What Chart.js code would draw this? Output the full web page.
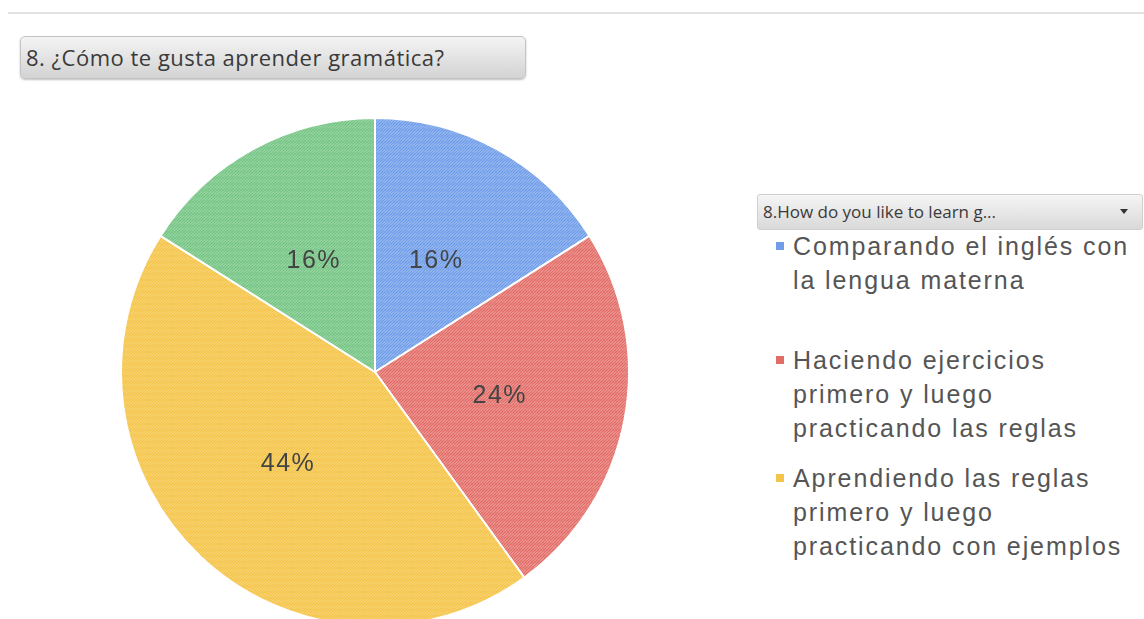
<!DOCTYPE html>
<html lang="es">
<head>
<meta charset="UTF-8">
<title>Gramática</title>
<style>
  html, body { margin: 0; padding: 0; background: #fff; overflow: hidden; }
  body { width: 1144px; height: 619px; position: relative; font-family: "Liberation Sans", Arial, sans-serif; }
  .topline { position: absolute; left: 8px; right: 0; top: 12px; height: 2px; background: #e2e2e2; }
  .titlebox {
    position: absolute; left: 20px; top: 36px; width: 506px; height: 43px; box-sizing: border-box;
    border: 1px solid #c4c4c4; border-radius: 5px;
    background: linear-gradient(#f4f4f4, #d3d3d3);
    box-shadow: 0 1px 2px rgba(0,0,0,0.25);
    font-family: "Open Sans", sans-serif; font-size: 22px; letter-spacing: 0.5px; color: #3a3a3a;
    line-height: 41px; padding-left: 5px;
  }
  .legendhead {
    position: absolute; left: 757px; top: 194px; width: 386px; height: 36px; box-sizing: border-box;
    border: 1px solid #cfcfcf; border-radius: 3px;
    background: linear-gradient(#f5f5f5, #d9d9d9);
    font-family: "Open Sans", sans-serif; font-size: 17px; color: #3a3a3a;
    line-height: 34px; padding-left: 5px;
  }
  .legendhead .arrow {
    position: absolute; right: 14px; top: 14px; width: 0; height: 0;
    border-left: 4px solid transparent; border-right: 4px solid transparent; border-top: 5px solid #333;
  }
  #legend { position: absolute; left: 776px; top: 229px; width: 368px; }
  .item { position: relative; padding-left: 17px; font-size: 25px; line-height: 34px; color: #555; letter-spacing: 1.9px; white-space: nowrap; }
  .item .sw { position: absolute; left: 0; top: 13px; width: 8px; height: 8px; }
  #chartWrap { position: absolute; left: 118px; top: 115px; width: 514px; height: 514px; }
</style>
</head>
<body>
<div class="topline"></div>
<div class="titlebox">8. ¿Cómo te gusta aprender gramática?</div>
<div class="legendhead">8.How do you like to learn g...<span class="arrow"></span></div>
<div id="legend"></div>
<div id="chartWrap"><canvas id="pieChart" width="514" height="514"></canvas></div>

<script src="https://cdn.jsdelivr.net/npm/chart.js@4/dist/chart.umd.min.js"></script>
<script>
  // categories (the 4th / green one is not visible in the legend)
  const labels = [
    ['Comparando el inglés con', 'la lengua materna'],
    ['Haciendo ejercicios', 'primero y luego', 'practicando las reglas'],
    ['Aprendiendo las reglas', 'primero y luego', 'practicando con ejemplos'],
    ['']
  ];
  const percents = [16, 24, 44, 16];
  const lightColors = ['#c9daf7', '#f7c9c6', '#fce7ad', '#c6e8cb'];
  const darkColors = ['#6f9de9', '#e26d68', '#f4c449', '#74c483'];
  const legendGaps = [46, 16, 0, 0];

  function makePattern(light, dark) {
    const c = document.createElement('canvas');
    c.width = 6; c.height = 6;
    const g = c.getContext('2d');
    g.fillStyle = light;
    g.fillRect(0, 0, 6, 6);
    g.strokeStyle = dark;
    g.lineWidth = 1.6;
    for (let k = -6; k <= 12; k += 3) {
      g.beginPath();
      g.moveTo(k, 6);
      g.lineTo(k + 6, 0);
      g.stroke();
    }
    g.globalAlpha = 0.35;
    g.lineWidth = 1;
    for (let k = -6; k <= 12; k += 3) {
      g.beginPath();
      g.moveTo(k, 0);
      g.lineTo(k + 6, 6);
      g.stroke();
    }
    return g.createPattern(c, 'repeat');
  }

  const ctx = document.getElementById('pieChart').getContext('2d');
  const patterns = lightColors.map((l, i) => makePattern(l, darkColors[i]));

  // percentage labels inside the slices
  const pctLabels = {
    id: 'pctLabels',
    afterDatasetsDraw(chart) {
      const c = chart.ctx;
      const meta = chart.getDatasetMeta(0);
      c.save();
      c.font = '25px "Liberation Sans", Arial, sans-serif';
      c.letterSpacing = '1.5px';
      c.fillStyle = '#444';
      c.textAlign = 'center';
      c.textBaseline = 'middle';
      meta.data.forEach((arc, i) => {
        const mid = (arc.startAngle + arc.endAngle) / 2;
        const r = arc.outerRadius * 0.5;
        c.fillText(percents[i] + '%', arc.x + Math.cos(mid) * r, arc.y + Math.sin(mid) * r);
      });
      c.restore();
    }
  };

  new Chart(ctx, {
    type: 'pie',
    data: {
      labels: labels,
      datasets: [{
        data: percents,
        backgroundColor: patterns,
        borderColor: '#fff',
        borderWidth: 2
      }]
    },
    options: {
      responsive: false,
      animation: false,
      layout: { padding: 2 },
      plugins: {
        legend: { display: false },
        tooltip: { enabled: false }
      }
    },
    plugins: [pctLabels]
  });

  // html legend (only the visible entries)
  const legendEl = document.getElementById('legend');
  labels.slice(0, 3).forEach((lines, i) => {
    const d = document.createElement('div');
    d.className = 'item';
    d.style.marginBottom = legendGaps[i] + 'px';
    d.innerHTML = '<span class="sw" style="background:' + darkColors[i] + '"></span>' + lines.join('<br>');
    legendEl.appendChild(d);
  });
</script>
</body>
</html>
